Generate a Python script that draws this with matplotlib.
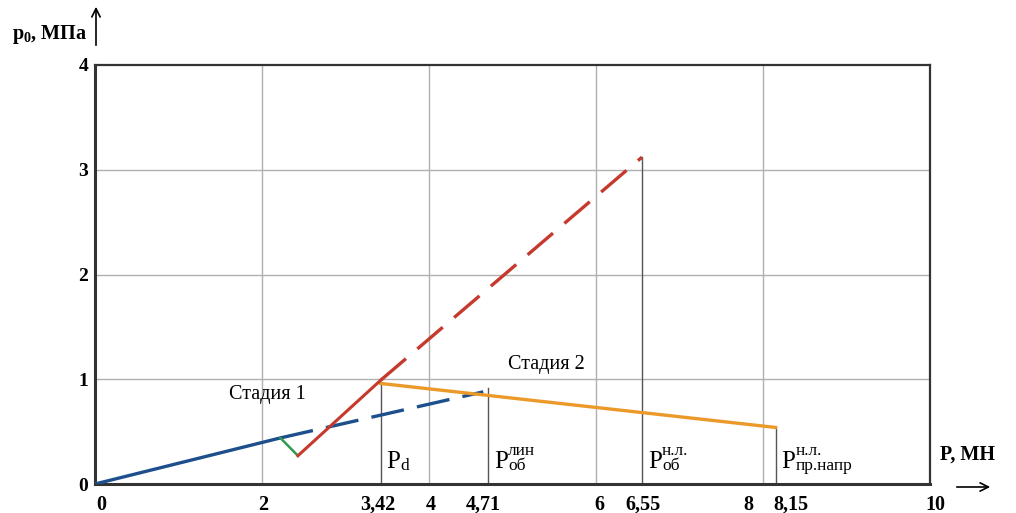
import matplotlib
matplotlib.use("Agg")
import matplotlib.pyplot as plt
from matplotlib.patches import FancyArrowPatch

plt.rcParams['font.family'] = ['Liberation Serif', 'DejaVu Serif']
plt.rcParams['mathtext.fontset'] = 'custom'
plt.rcParams['mathtext.rm'] = 'Liberation Serif'
plt.rcParams['mathtext.it'] = 'Liberation Serif:italic'
plt.rcParams['mathtext.bf'] = 'Liberation Serif:bold'

# data
stage1_x = [0, 2.22]
stage1_y = [0, 0.44]
green_x = [2.22, 2.43]
green_y = [0.44, 0.27]
red_x = [2.43, 3.42]
red_y = [0.27, 0.99]
red_dash_x = [3.42, 6.55]
red_dash_y = [0.99, 3.12]
blue_dash_x = [2.22, 4.65]
blue_dash_y = [0.44, 0.88]
stage2_x = [3.42, 8.15]
stage2_y = [0.96, 0.54]

mark_x = [3.42, 4.71, 6.55, 8.15]
mark_top = [0.96, 0.92, 3.12, 0.54]
mark_sub = ['d', 'об', 'об', 'пр.напр']
mark_sup = ['', 'лин', 'н.л.', 'н.л.']

xticks = [0, 2, 3.42, 4, 4.71, 6, 6.55, 8, 8.15, 10]
xtick_labels = ['0', '2', '3,42', '4', '4,71', '6', '6,55', '8', '8,15', '10']
xtick_shift = [6, 1, -3, 2, -5, 3, 1, -15, 15, 5]   # px, as placed in the picture
yticks = [0, 1, 2, 3, 4]

blue = '#1d4f8c'
red = '#c63a2e'
orange = '#eb9a2a'
green = '#2f9a4c'

PX = 0.72  # points per pixel at dpi 100

fig = plt.figure(figsize=(10.16, 5.13), dpi=100)
ax = fig.add_axes([0.0935, 0.0565, 0.8219, 0.8168])
ax.set_xlim(0, 10)
ax.set_ylim(0, 4)

# grid
for gx in [2, 4, 6, 8]:
    ax.axvline(gx, color='#b0b0b0', lw=1, zorder=0)
for gy in [1, 2, 3]:
    ax.axhline(gy, color='#b0b0b0', lw=1, zorder=0)

# marker verticals
for mx, mt in zip(mark_x, mark_top):
    ax.plot([mx, mx], [0, mt], color='#555555', lw=1, zorder=1)

ax.plot(red_dash_x, red_dash_y, color=red, lw=2.4, dashes=(10, 4.5), zorder=3)
ax.plot(blue_dash_x, blue_dash_y, color=blue, lw=2.4, dashes=(10, 4), zorder=3)
ax.plot(stage2_x, stage2_y, color=orange, lw=2.4, zorder=4)
ax.plot(stage1_x, stage1_y, color=blue, lw=2.4, zorder=4)
ax.plot(green_x, green_y, color=green, lw=1.8, zorder=4)
ax.plot(red_x, red_y, color=red, lw=2.2, zorder=4)

ax.text(1.6, 0.85, 'Стадия 1', fontsize=14.5, va='center')
ax.text(4.95, 1.14, 'Стадия 2', fontsize=14.5, va='center')

# P labels: big P with sub- and superscripts
for mx, sub, sup in zip(mark_x, mark_sub, mark_sup):
    ax.annotate('P', xy=(mx, 0), xytext=(6 * PX, 16 * PX), textcoords='offset points',
                fontsize=18, ha='left', va='baseline')
    ax.annotate(sub, xy=(mx, 0), xytext=(20 * PX, 14 * PX), textcoords='offset points',
                fontsize=12.5, ha='left', va='baseline')
    if sup:
        ax.annotate(sup, xy=(mx, 0), xytext=(20 * PX, 29 * PX), textcoords='offset points',
                    fontsize=12.5, ha='left', va='baseline')

# x tick labels, drawn one by one to keep their shifts
ax.set_xticks(xticks)
ax.set_xticklabels([])
for xt, lab, sh in zip(xticks, xtick_labels, xtick_shift):
    ax.annotate(lab, xy=(xt, 0), xytext=(sh * PX, -26 * PX), textcoords='offset points',
                fontsize=14.5, fontweight='bold', ha='center', va='baseline',
                annotation_clip=False)
ax.set_yticks(yticks)
ax.set_yticklabels([str(v) for v in yticks], fontsize=14, fontweight='bold')
ax.tick_params(length=0, pad=5)

for side in ['left', 'bottom']:
    ax.spines[side].set_linewidth(2.2)
    ax.spines[side].set_color('#333333')
for side in ['top', 'right']:
    ax.spines[side].set_linewidth(1.6)
    ax.spines[side].set_color('#333333')

# axis titles with arrows
fig.text(12 / 1016, 1 - 35 / 513, r'$\mathbf{p_0}$, МПа', fontsize=14.5, fontweight='bold',
         va='center', ha='left')
fig.add_artist(FancyArrowPatch(
    (96 / 1016, 1 - 48 / 513), (96 / 1016, 1 - 4 / 513), transform=fig.transFigure,
    arrowstyle='->,head_width=3,head_length=6', color='black', lw=1.2))
fig.text(940 / 1016, 1 - 455 / 513, 'P, МН', fontsize=14.5, fontweight='bold',
         va='center', ha='left')
fig.add_artist(FancyArrowPatch(
    (954 / 1016, 1 - 487 / 513), (993 / 1016, 1 - 487 / 513), transform=fig.transFigure,
    arrowstyle='->,head_width=3,head_length=6', color='black', lw=1.2))

fig.savefig('out.png', dpi=100)
